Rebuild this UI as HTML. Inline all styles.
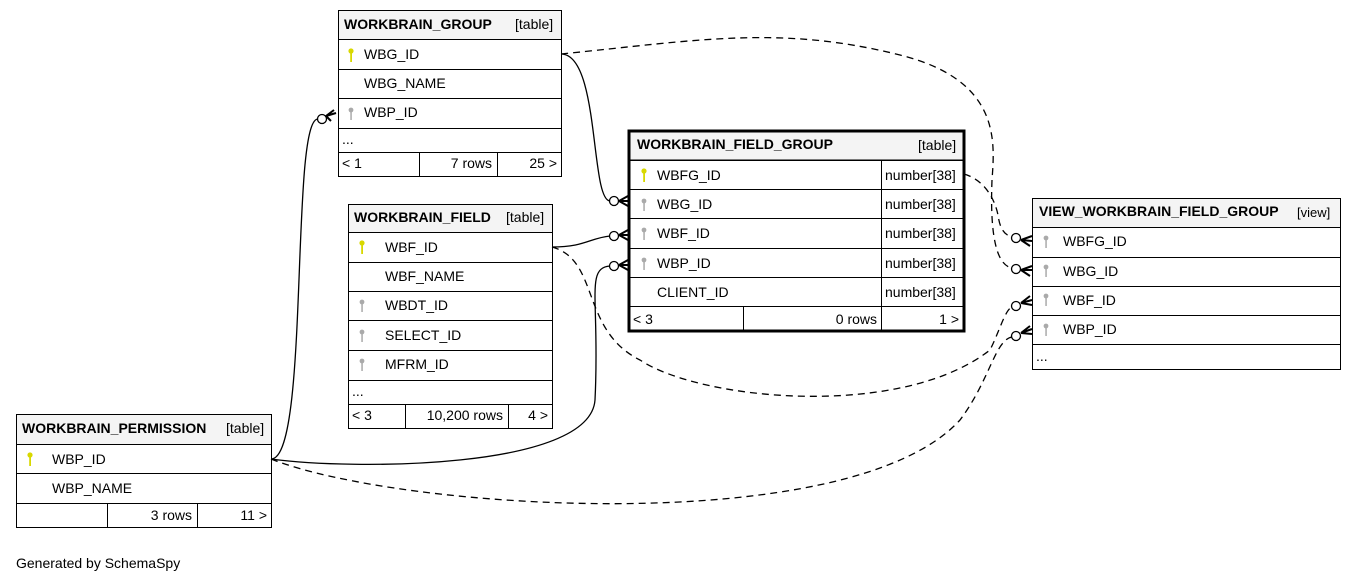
<!DOCTYPE html>
<html><head><style>
body{margin:0;background:#fff;width:1357px;height:583px;overflow:hidden}
svg text{font-family:"Liberation Sans",Arial,sans-serif;font-size:14px;fill:#000}
.b{font-weight:bold}
</style></head><body>
<svg width="1357" height="583" xmlns="http://www.w3.org/2000/svg">
<defs>
<g id="pk"><circle cx="0" cy="-4" r="2.6" fill="#d8d800"/><rect x="-0.8" y="-2" width="1.8" height="9" fill="#d8d800"/></g>
<g id="fk"><circle cx="0" cy="-4" r="2.4" fill="#aaa"/><rect x="-0.7" y="-2" width="1.5" height="8" fill="#aaa"/></g>
</defs>
<g fill="none" stroke="#000" stroke-width="1.3">
<!-- solid connectors -->
<path d="M561,54 C600,54 590,200 610,201"/>
<path d="M552,247 C585,247 590,238 610,236"/>
<path d="M271,459 C310,459 290,119 318,119"/>
<path d="M271,459 C350,470 590,470 595,400 C600,300 585,268 610,266"/>
<!-- dashed -->
<g stroke-dasharray="7,5">
<path d="M561,54 C700,40 780,25 900,55 C1000,80 995,140 992,180 C990,230 995,265 1012,268"/>
<path d="M964,174 C985,180 995,200 998,215 C1000,230 1005,235 1012,237"/>
<path d="M552,247 C600,260 580,330 640,360 C700,400 900,420 990,350 C1000,330 1005,310 1012,307"/>
<path d="M271,459 C400,510 850,540 960,420 C990,380 995,340 1012,337"/>
</g>
<!-- circles -->
<circle cx="614" cy="201" r="4.5" fill="#fff"/>
<circle cx="614" cy="236" r="4.5" fill="#fff"/>
<circle cx="614" cy="266" r="4.5" fill="#fff"/>
<circle cx="322" cy="119" r="4.5" fill="#fff"/>
<circle cx="1016" cy="238" r="4.5" fill="#fff"/>
<circle cx="1016" cy="269" r="4.5" fill="#fff"/>
<circle cx="1016" cy="306" r="4.5" fill="#fff"/>
<circle cx="1016" cy="336" r="4.5" fill="#fff"/>
<!-- crow's feet -->
<path d="M619,201 L628,196 M619,201 L628,201 M619,201 L628,206" stroke-width="2"/>
<path d="M619,235 L628,230 M619,235 L628,235 M619,235 L628,240" stroke-width="2"/>
<path d="M619,265 L628,260 M619,265 L628,265 M619,265 L628,270" stroke-width="2"/>
<path d="M326,116 L334,110 M326,116 L336,113 M326,116 L331,121" stroke-width="2"/>
<path d="M1021,240 L1032,236 M1021,240 L1032,241 M1021,240 L1030,246" stroke-width="2"/>
<path d="M1021,270 L1032,266 M1021,270 L1032,270 M1021,270 L1030,276" stroke-width="2"/>
<path d="M1021,303 L1030,296 M1021,303 L1032,300 M1021,303 L1032,305" stroke-width="2"/>
<path d="M1021,333 L1030,326 M1021,333 L1032,329 M1021,333 L1032,334" stroke-width="2"/>
</g>

<!-- WORKBRAIN_GROUP -->
<g stroke="#000" stroke-width="1" fill="none">
<rect x="338.5" y="10.5" width="223" height="29" fill="#f4f4f4"/>
<rect x="338.5" y="10.5" width="223" height="166" fill="none"/>
<path d="M338,39.5H561M338,69.5H561M338,98.5H561M338,128.5H561M338,152.5H561M419.5,152V176M497.5,152V176"/>
</g>
<text x="344" y="29" class="b">WORKBRAIN_GROUP</text><text x="515" y="29">[table]</text>
<use href="#pk" x="351" y="55"/><text x="364" y="59">WBG_ID</text>
<text x="364" y="88">WBG_NAME</text>
<use href="#fk" x="351" y="114"/><text x="364" y="117">WBP_ID</text>
<text x="342" y="144">...</text>
<text x="342" y="168">&lt; 1</text><text x="492" y="168" text-anchor="end">7 rows</text><text x="557" y="168" text-anchor="end">25 &gt;</text>

<!-- WORKBRAIN_FIELD -->
<g stroke="#000" stroke-width="1" fill="none">
<rect x="348.5" y="204.5" width="204" height="28" fill="#f4f4f4"/>
<rect x="348.5" y="204.5" width="204" height="224"/>
<path d="M348,232.5H552M348,262.5H552M348,291.5H552M348,320.5H552M348,350.5H552M348,380.5H552M348,404.5H552M405.5,404V428M508.5,404V428"/>
</g>
<text x="354" y="222" class="b">WORKBRAIN_FIELD</text><text x="506" y="222">[table]</text>
<use href="#pk" x="362" y="247"/><text x="385" y="252">WBF_ID</text>
<text x="385" y="281">WBF_NAME</text>
<use href="#fk" x="362" y="306"/><text x="385" y="310">WBDT_ID</text>
<use href="#fk" x="362" y="336"/><text x="385" y="340">SELECT_ID</text>
<use href="#fk" x="362" y="365"/><text x="385" y="369">MFRM_ID</text>
<text x="352" y="396">...</text>
<text x="352" y="420">&lt; 3</text><text x="503" y="420" text-anchor="end">10,200 rows</text><text x="548" y="420" text-anchor="end">4 &gt;</text>

<!-- WORKBRAIN_PERMISSION -->
<g stroke="#000" stroke-width="1" fill="none">
<rect x="16.5" y="414.5" width="255" height="30" fill="#f4f4f4"/>
<rect x="16.5" y="414.5" width="255" height="113"/>
<path d="M16,444.5H271M16,473.5H271M16,503.5H271M107.5,503V527M197.5,503V527"/>
</g>
<text x="22" y="433" class="b">WORKBRAIN_PERMISSION</text><text x="226" y="433">[table]</text>
<use href="#pk" x="30" y="459"/><text x="52" y="464">WBP_ID</text>
<text x="52" y="493">WBP_NAME</text>
<text x="192" y="520" text-anchor="end">3 rows</text><text x="267" y="520" text-anchor="end">11 &gt;</text>

<!-- WORKBRAIN_FIELD_GROUP -->
<g stroke="#000" stroke-width="1" fill="none">
<rect x="629" y="131" width="335" height="29" fill="#f4f4f4"/>
<path d="M628,160.5H964M628,189.5H964M628,218.5H964M628,248.5H964M628,277.5H964M628,306.5H964M881.5,160V330M743.5,306V330"/>
<rect x="629" y="131" width="335" height="200" stroke-width="3"/>
</g>
<text x="637" y="149" class="b">WORKBRAIN_FIELD_GROUP</text><text x="918" y="150">[table]</text>
<use href="#pk" x="644" y="175"/><text x="657" y="180">WBFG_ID</text>
<use href="#fk" x="644" y="205"/><text x="657" y="209">WBG_ID</text>
<use href="#fk" x="644" y="234"/><text x="657" y="238">WBF_ID</text>
<use href="#fk" x="644" y="264"/><text x="657" y="268">WBP_ID</text>
<text x="657" y="297">CLIENT_ID</text>
<text x="885" y="180">number[38]</text><text x="885" y="209">number[38]</text><text x="885" y="238">number[38]</text><text x="885" y="268">number[38]</text><text x="885" y="297">number[38]</text>
<text x="633" y="324">&lt; 3</text><text x="877" y="324" text-anchor="end">0 rows</text><text x="959" y="324" text-anchor="end">1 &gt;</text>

<!-- VIEW -->
<g stroke="#000" stroke-width="1" fill="none">
<rect x="1032.5" y="198.5" width="308" height="29" fill="#f4f4f4"/>
<rect x="1032.5" y="198.5" width="308" height="171"/>
<path d="M1032,227.5H1340M1032,257.5H1340M1032,286.5H1340M1032,315.5H1340M1032,344.5H1340"/>
</g>
<text x="1039" y="216" class="b">VIEW_WORKBRAIN_FIELD_GROUP</text><text x="1297" y="217" style="font-size:13px">[view]</text>
<use href="#fk" x="1046" y="242"/><text x="1063" y="246">WBFG_ID</text>
<use href="#fk" x="1046" y="271"/><text x="1063" y="276">WBG_ID</text>
<use href="#fk" x="1046" y="300"/><text x="1063" y="305">WBF_ID</text>
<use href="#fk" x="1046" y="330"/><text x="1063" y="334">WBP_ID</text>
<text x="1036" y="361">...</text>

<text x="16" y="568">Generated by SchemaSpy</text>
</svg>
</body></html>
